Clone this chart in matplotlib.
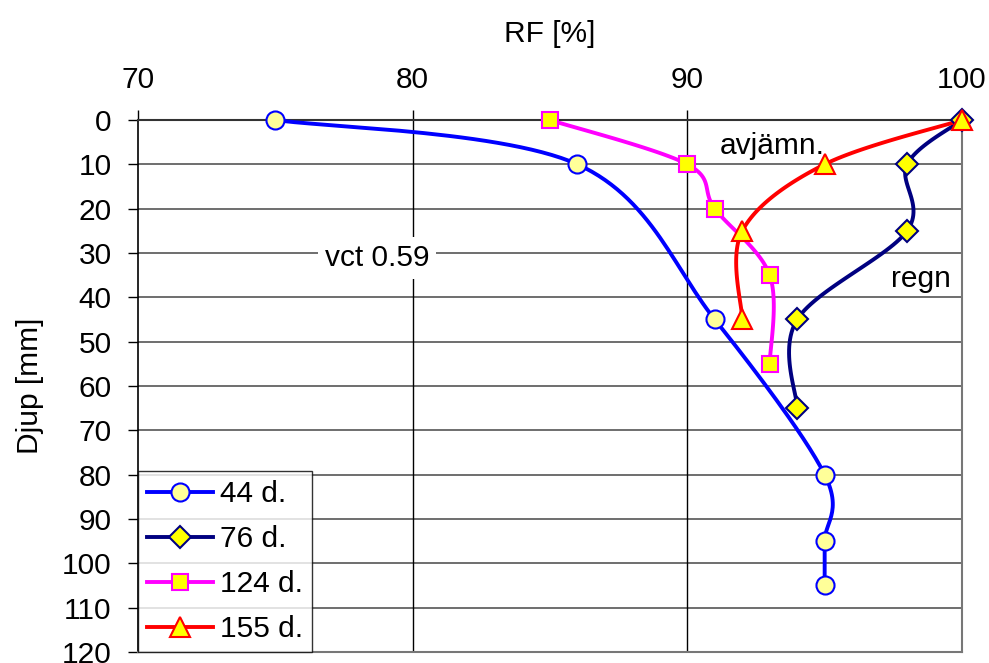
import numpy as np
import matplotlib
matplotlib.use("Agg")
import matplotlib.pyplot as plt

plt.rcParams["font.family"] = ["Liberation Sans", "DejaVu Sans"]

# Data
labels = ["44 d.", "76 d.", "124 d.", "155 d."]
rf_44 = [75, 86, 91, 95, 95, 95]
depth_44 = [0, 10, 45, 80, 95, 105]
rf_76 = [100, 98, 98, 94, 94]
depth_76 = [0, 10, 25, 45, 65]
rf_124 = [85, 90, 91, 93, 93]
depth_124 = [0, 10, 20, 35, 55]
rf_155 = [100, 95, 92, 92]
depth_155 = [0, 10, 25, 45]

x_ticks = [70, 80, 90, 100]
y_ticks = list(range(0, 130, 10))

FS = 21.5

styles = [
    dict(color="#0000FF", marker="o", mfc="#FFFF99", mec="#0000FF"),
    dict(color="#000080", marker="D", mfc="#FFFF00", mec="#000080"),
    dict(color="#FF00FF", marker="s", mfc="#FFFF00", mec="#FF00FF"),
    dict(color="#FF0000", marker="^", mfc="#FFFF00", mec="#FF0000"),
]
marker_sizes = [13, 11, 12, 14]


def excel_smooth(points, n=30):
    # Bezier smoothing like Excel's smoothed line (Catmull-Rom, tension 1/6)
    p = np.asarray(points, dtype=float)
    ext = np.vstack([p[0], p, p[-1]])
    out = []
    for i in range(len(p) - 1):
        p0, p1, p2, p3 = ext[i], ext[i + 1], ext[i + 2], ext[i + 3]
        c1 = p1 + (p2 - p0) / 6.0
        c2 = p2 - (p3 - p1) / 6.0
        t = np.linspace(0, 1, n)[:, None]
        seg = ((1 - t) ** 3) * p1 + 3 * ((1 - t) ** 2) * t * c1 + 3 * (1 - t) * t ** 2 * c2 + t ** 3 * p2
        out.append(seg if i == 0 else seg[1:])
    return np.vstack(out)


fig = plt.figure(figsize=(9.89, 6.63), dpi=100)
ax = fig.add_axes([0.1395, 0.0166, 0.8332, 0.8024])
ax.set_xlim(70, 100)
ax.set_ylim(120, 0)

ax.xaxis.tick_top()
ax.xaxis.set_label_position("top")
ax.set_xticks(x_ticks)
ax.set_yticks(y_ticks)
ax.tick_params(axis="both", labelsize=FS, length=7, width=1, direction="out")
ax.tick_params(axis="x", pad=12)
ax.tick_params(axis="y", pad=12)
ax.set_xlabel("RF [%]", fontsize=FS, labelpad=17)
ax.set_ylabel("Djup [mm]", fontsize=FS, labelpad=13)

for y in y_ticks[1:]:
    ax.axhline(y, color="#555555", lw=1.2, zorder=0)
for x in x_ticks[1:-1]:
    ax.axvline(x, color="black", lw=1.0, zorder=0)

for side in ["top", "bottom", "right"]:
    ax.spines[side].set_color("#777777")
    ax.spines[side].set_linewidth(1.5)
ax.spines["left"].set_color("black")
ax.spines["left"].set_linewidth(1.2)
ax.spines["top"].set_color("#333333")

series = [(rf_44, depth_44), (rf_76, depth_76), (rf_124, depth_124), (rf_155, depth_155)]
handles = []
for (rf, depth), st, ms, lab in zip(series, styles, marker_sizes, labels):
    disp = ax.transData.transform(np.column_stack([rf, depth]))
    curve = ax.transData.inverted().transform(excel_smooth(disp))
    ax.plot(curve[:, 0], curve[:, 1], color=st["color"], lw=2.8, zorder=3, clip_on=False)
    ax.plot(rf, depth, ls="none", marker=st["marker"], ms=ms, mfc=st["mfc"],
            mec=st["mec"], mew=1.5, zorder=4, clip_on=False)
    h, = ax.plot([], [], color=st["color"], lw=2.8, marker=st["marker"], ms=ms,
                 mfc=st["mfc"], mec=st["mec"], mew=1.5, label=lab)
    handles.append(h)

ax.text(78.7, 31.2, "vct 0.59", fontsize=FS, ha="center", va="center",
        bbox=dict(facecolor="white", edgecolor="none", pad=5), zorder=2)
ax.text(93.1, 5.8, "avjämn.", fontsize=FS, ha="center", va="center", zorder=2)
ax.text(98.5, 35.8, "regn", fontsize=FS, ha="center", va="center", zorder=2)

leg = ax.legend(handles=handles, loc="lower left", fontsize=FS, frameon=True,
                fancybox=False, borderaxespad=0, handlelength=2.2,
                handletextpad=0.25, labelspacing=0.57, borderpad=0.3)
leg.get_frame().set_edgecolor("black")
leg.get_frame().set_linewidth(1.0)
leg.set_zorder(5)

fig.savefig("out.png", dpi=100)
